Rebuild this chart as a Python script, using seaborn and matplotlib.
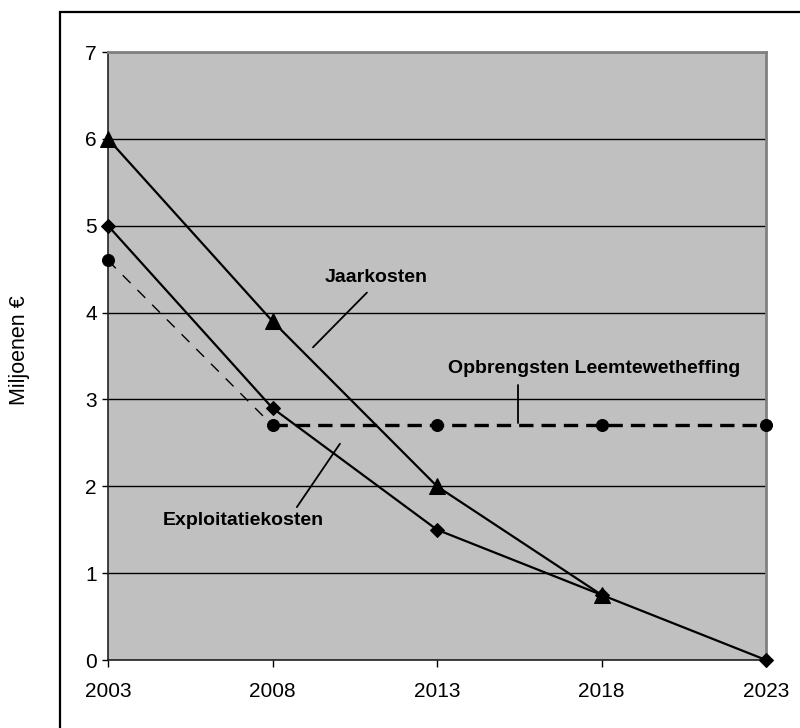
import numpy as np
import pandas as pd
import matplotlib
matplotlib.use("Agg")
import matplotlib.pyplot as plt
from matplotlib.patches import Rectangle
from matplotlib import font_manager
import seaborn as sns

# Kosten en opbrengsten per peiljaar (miljoenen euro)
jaren = [2003, 2008, 2013, 2018, 2023]
jaarkosten = [6.0, 3.9, 2.0, 0.75, np.nan]
exploitatiekosten = [5.0, 2.9, 1.5, 0.75, 0.0]
opbrengsten = [4.6, 2.7, 2.7, 2.7, 2.7]
y_ticks = [0, 1, 2, 3, 4, 5, 6, 7]

sns.set_theme(style="white")
plt.rcParams["font.family"] = ["Liberation Sans", "DejaVu Sans"]
plt.rcParams["text.color"] = "black"
plt.rcParams["xtick.color"] = "black"
plt.rcParams["ytick.color"] = "black"

beschikbaar = {f.name for f in font_manager.fontManager.ttflist}
smal = "Liberation Sans Narrow" if "Liberation Sans Narrow" in beschikbaar else None
if smal:
    label_font = dict(family=[smal, "Liberation Sans"], fontsize=16.5,
                      fontweight="bold")
else:
    label_font = dict(family=["Liberation Sans"], fontsize=14,
                      fontweight="bold")

fig = plt.figure(figsize=(8.0, 7.28), dpi=100)
ax = fig.add_axes([108 / 800, 1 - 660 / 728, (766 - 108) / 800, (660 - 52) / 728])
ax.set_facecolor("#C0C0C0")

# Omkadering rond de hele grafiek
fig.add_artist(Rectangle((60 / 800, -0.2), 1.0, 1.2 - 12 / 728,
                         transform=fig.transFigure, fill=False,
                         edgecolor="black", lw=1.6))

df = pd.DataFrame({"jaar": jaren, "jaarkosten": jaarkosten,
                   "exploitatiekosten": exploitatiekosten,
                   "opbrengsten": opbrengsten})

# Opbrengsten: schuin stuk dun gestreept, vlak stuk dik gestreept
d1 = df.iloc[0:2]
d2 = df.iloc[1:]
sns.lineplot(data=d1, x="jaar", y="opbrengsten", ax=ax, color="black",
             lw=1.0, zorder=3)
ax.lines[-1].set_dashes((8, 7))
sns.lineplot(data=d2, x="jaar", y="opbrengsten", ax=ax, color="black",
             lw=2.4, zorder=3)
ax.lines[-1].set_dashes((4.3, 2.4))
sns.scatterplot(data=df, x="jaar", y="opbrengsten", ax=ax, color="black",
                marker="o", s=75, edgecolor="black", zorder=5, clip_on=False)

sns.lineplot(data=df, x="jaar", y="exploitatiekosten", ax=ax, color="black",
             lw=1.6, marker="D", markersize=7, markeredgecolor="black",
             zorder=4, clip_on=False)
sns.lineplot(data=df.dropna(), x="jaar", y="jaarkosten", ax=ax, color="black",
             lw=1.6, marker="^", markersize=11, markeredgecolor="black",
             zorder=6, clip_on=False)

ax.set_xlim(2003, 2023)
ax.set_ylim(0, 7)
ax.set_xticks(jaren)
ax.set_yticks(y_ticks)
ax.set_xticklabels([str(j) for j in jaren])
ax.set_xlabel("")
ax.set_ylabel("")
ax.grid(axis="y", color="black", lw=1.0, zorder=1)
ax.grid(axis="x", visible=False)
ax.set_axisbelow(True)

for side in ["left", "bottom"]:
    ax.spines[side].set_color("#222222")
    ax.spines[side].set_linewidth(1.2)
for side in ["top", "right"]:
    ax.spines[side].set_color("#808080")
    ax.spines[side].set_linewidth(2.0)

ax.tick_params(axis="y", direction="out", length=4, width=1, color="black",
               labelsize=15, pad=4, left=True)
ax.tick_params(axis="x", direction="out", length=5, width=1, color="black",
               labelsize=15, pad=11, bottom=True)

fig.text(20 / 800, 1 - 350 / 728, "Miljoenen €", rotation=90,
         ha="center", va="center", fontsize=15.5)

# Labels met verbindingslijnen
ax.text(2011.15, 4.40, "Jaarkosten", ha="center", va="center", **label_font)
ax.plot([2010.87, 2009.23], [4.23, 3.60], color="black", lw=1.3)

ax.text(2017.77, 3.36, "Opbrengsten Leemtewetheffing", ha="center",
        va="center", **label_font)
ax.plot([2015.46, 2015.46], [3.17, 2.73], color="black", lw=1.3)

ax.text(2007.12, 1.61, "Exploitatiekosten", ha="center", va="center",
        **label_font)
ax.plot([2008.74, 2010.05], [1.76, 2.49], color="black", lw=1.3)

fig.savefig("out.png", dpi=100)
